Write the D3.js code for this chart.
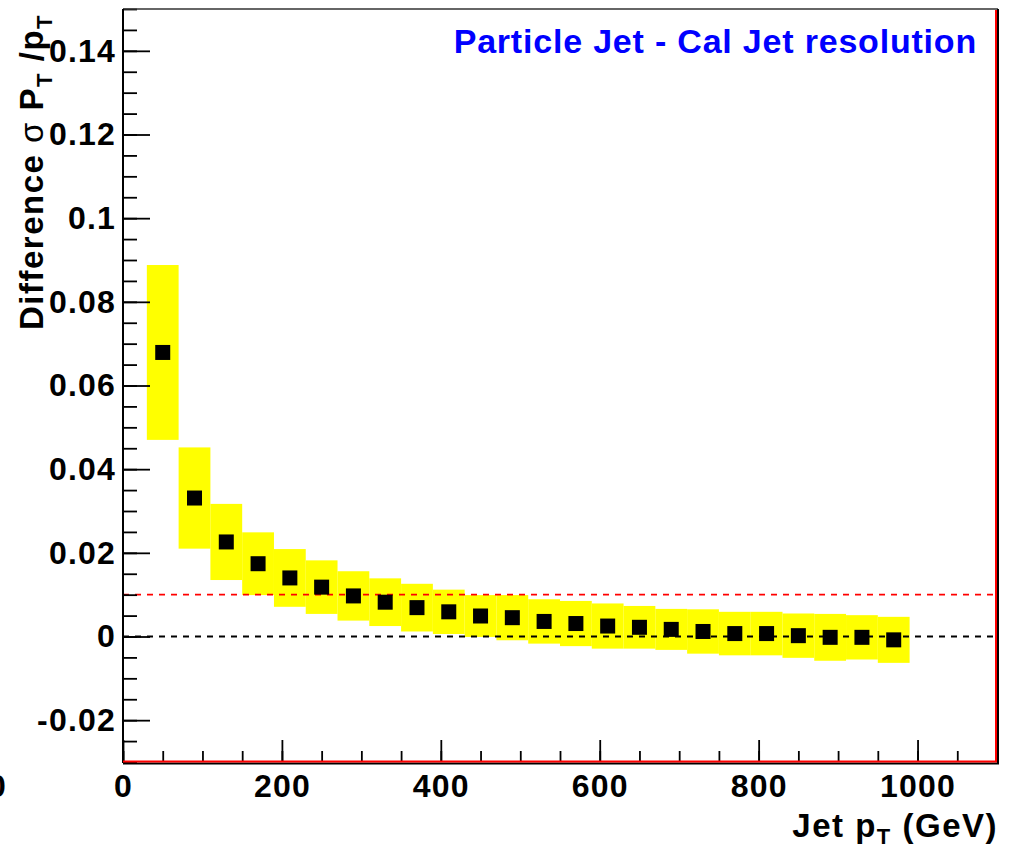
<!DOCTYPE html>
<html>
<head>
<meta charset="utf-8">
<script src="https://cdn.jsdelivr.net/npm/d3@7/dist/d3.min.js"></script>
<style>
  html, body { margin: 0; padding: 0; background: #fff; }
  svg { display: block; }
  text { font-family: "Liberation Sans", Arial, Helvetica, sans-serif; font-weight: bold; }
</style>
</head>
<body>
<svg id="chart" width="1011" height="851"></svg>
<script>
// ---- data ----
const binCenters = [50, 90, 130, 170, 210, 250, 290, 330, 370, 410, 450, 490,
                    530, 570, 610, 650, 690, 730, 770, 810, 850, 890, 930, 970];
const binWidth = 40;
const values = [0.0679, 0.0331, 0.0226, 0.0174, 0.0140, 0.0118, 0.0097, 0.0082,
                0.0069, 0.0059, 0.0049, 0.0045, 0.0036, 0.0031, 0.0025, 0.0022,
                0.0017, 0.0012, 0.0007, 0.0007, 0.0002, -0.0002, -0.0002, -0.0008];
const errors = [0.0209, 0.0121, 0.0091, 0.0075, 0.0069, 0.0064, 0.0059, 0.0057,
                0.0057, 0.0053, 0.0050, 0.0054, 0.0053, 0.0054, 0.0054, 0.0051,
                0.0049, 0.0053, 0.0052, 0.0052, 0.0053, 0.0056, 0.0053, 0.0055];
const xDomain = [0, 1100];
const yDomain = [-0.03, 0.15];
const xTicks = [0, 200, 400, 600, 800, 1000];
const xMinorTicks = d3.range(0, 1101, 50);
const yTicks = [-0.02, 0, 0.02, 0.04, 0.06, 0.08, 0.1, 0.12, 0.14];
const yMinorTicks = d3.range(-0.03, 0.1501, 0.005).map(v => +v.toFixed(3));
const refValues = [0.01, 0];
const refColors = ["#ff0000", "#000000"];
const title = "Particle Jet - Cal Jet resolution";

// ---- layout ----
const L = 123, R = 997, T = 9, B = 762;
const svg = d3.select("#chart");
const x = d3.scaleLinear().domain(xDomain).range([L, R]);
const y = d3.scaleLinear().domain(yDomain).range([B, T]);

// error boxes
svg.append("g").selectAll("rect").data(binCenters).join("rect")
  .attr("x", (d) => x(d - binWidth / 2))
  .attr("width", (d) => x(d + binWidth / 2) - x(d - binWidth / 2))
  .attr("y", (d, i) => y(values[i] + errors[i]))
  .attr("height", (d, i) => y(values[i] - errors[i]) - y(values[i] + errors[i]))
  .attr("fill", "#ffff00");

// reference dashed lines
svg.append("g").selectAll("line").data(refValues).join("line")
  .attr("x1", L).attr("x2", R)
  .attr("y1", (d) => y(d)).attr("y2", (d) => y(d))
  .attr("stroke", (d, i) => refColors[i])
  .attr("stroke-width", 1.8)
  .attr("stroke-dasharray", "6,6");

// markers
const ms = 15;
svg.append("g").selectAll("rect").data(binCenters).join("rect")
  .attr("x", (d) => x(d) - ms / 2)
  .attr("y", (d, i) => y(values[i]) - ms / 2)
  .attr("width", ms).attr("height", ms)
  .attr("fill", "#000");

// axes
const fmtY = (d) => String(+d.toFixed(2));
const yAxis = svg.append("g").attr("transform", `translate(${L},0)`)
  .call(d3.axisLeft(y).tickValues(yTicks).tickSizeInner(-27).tickSizeOuter(0)
    .tickPadding(7).tickFormat(fmtY));
const yMinor = svg.append("g").attr("transform", `translate(${L},0)`)
  .call(d3.axisLeft(y).tickValues(yMinorTicks).tickSizeInner(-14).tickSizeOuter(0)
    .tickFormat(""));
const xAxis = svg.append("g").attr("transform", `translate(0,${B})`)
  .call(d3.axisBottom(x).tickValues(xTicks).tickSizeInner(-22).tickSizeOuter(0)
    .tickPadding(12).tickFormat(d3.format("d")));
const xMinor = svg.append("g").attr("transform", `translate(0,${B})`)
  .call(d3.axisBottom(x).tickValues(xMinorTicks).tickSizeInner(-11).tickSizeOuter(0)
    .tickFormat(""));
[yAxis, yMinor, xAxis, xMinor].forEach(g => {
  g.select(".domain").remove();
  g.selectAll(".tick line").attr("stroke", "#000").attr("stroke-width", 1.8);
  g.selectAll("text").attr("font-size", 32).attr("fill", "#000")
    .attr("letter-spacing", 1.2)
    .attr("font-family", "'Liberation Sans', Arial, sans-serif").attr("font-weight", "bold");
});

// frame
svg.append("line").attr("x1", L).attr("x2", R + 1).attr("y1", T).attr("y2", T)
  .attr("stroke", "#333").attr("stroke-width", 1.5);
svg.append("line").attr("x1", L).attr("x2", L).attr("y1", T).attr("y2", B + 1)
  .attr("stroke", "#000").attr("stroke-width", 2);
svg.append("line").attr("x1", L).attr("x2", R + 2).attr("y1", B + 1.5).attr("y2", B + 1.5)
  .attr("stroke", "#000").attr("stroke-width", 2);
svg.append("line").attr("x1", R + 1).attr("x2", R + 1).attr("y1", T).attr("y2", B + 2)
  .attr("stroke", "#000").attr("stroke-width", 2);
svg.append("line").attr("x1", L).attr("x2", R).attr("y1", B - 0.5).attr("y2", B - 0.5)
  .attr("stroke", "#ff0000").attr("stroke-width", 2);
svg.append("line").attr("x1", R - 1).attr("x2", R - 1).attr("y1", T + 1).attr("y2", B)
  .attr("stroke", "#ff0000").attr("stroke-width", 2);

// stray clipped "0" label at left edge (as in the reference)
svg.append("text").attr("x", -3).attr("y", B + 12).attr("dy", "0.71em")
  .attr("text-anchor", "middle").attr("font-size", 32).text("0");

// title
svg.append("text").attr("x", 977).attr("y", 53).attr("text-anchor", "end")
  .attr("font-size", 34).attr("letter-spacing", 0.8).attr("fill", "#0000ff").text(title);

// x axis title
const xt = svg.append("text").attr("x", 998).attr("y", 837).attr("text-anchor", "end")
  .attr("font-size", 33).attr("letter-spacing", 1.5);
xt.append("tspan").text("Jet p");
xt.append("tspan").attr("font-size", 22).attr("dy", 7).text("T");
xt.append("tspan").attr("dy", -7).text(" (GeV)");

// y axis title
const yt = svg.append("text").attr("transform", "translate(43,14) rotate(-90)")
  .attr("text-anchor", "end").attr("font-size", 33).attr("letter-spacing", 1.5);
yt.append("tspan").text("Difference ");
yt.append("tspan").attr("font-weight", "normal").text("σ");
yt.append("tspan").text(" P");
yt.append("tspan").attr("font-size", 22).attr("dy", 9).text("T");
yt.append("tspan").attr("dy", -9).text(" /p");
yt.append("tspan").attr("font-size", 22).attr("dy", 9).text("T");
</script>
</body>
</html>
